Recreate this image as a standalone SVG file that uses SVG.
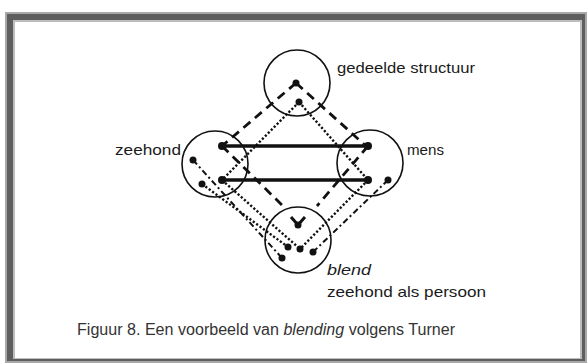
<svg xmlns="http://www.w3.org/2000/svg" width="587" height="363" viewBox="0 0 587 363">
<style>
.c{fill:none;stroke:#111;stroke-width:1.6}
.dot{fill:#111}
.solid{stroke:#111;stroke-width:3.6;fill:none}
.dash{stroke:#111;stroke-width:2.8;stroke-dasharray:9 6;fill:none}
.dotted{stroke:#111;stroke-width:2.4;stroke-dasharray:2.2 2;fill:none}
.dashdot{stroke:#111;stroke-width:2;stroke-dasharray:6 3 2 3;fill:none}
.t{font-family:"Liberation Sans",Arial,sans-serif;font-size:15px;fill:#1a1a1a}
</style>
<rect x="5" y="12" width="582" height="351" fill="#a8a8a8"/>
<rect x="7" y="14" width="578" height="347" fill="#5e5e5e"/>
<rect x="13" y="20" width="569" height="339" fill="#bdbdbd"/>
<rect x="15" y="22" width="565" height="336" fill="#ffffff"/>
<g id="connectors">
<line class="solid" x1="222" y1="146" x2="368" y2="146"/>
<line class="solid" x1="222" y1="180" x2="368" y2="180"/>
<line class="dash" x1="296" y1="83" x2="222" y2="146"/>
<line class="dash" x1="296" y1="83" x2="366" y2="146"/>
<line class="dash" x1="222" y1="146" x2="283" y2="206"/>
<line class="dash" x1="368" y1="146" x2="317" y2="206"/>
<line class="dotted" x1="299" y1="102" x2="222" y2="180"/>
<line class="dotted" x1="299" y1="102" x2="368" y2="180"/>
<line class="dotted" x1="222" y1="180" x2="300" y2="249"/>
<line class="dotted" x1="368" y1="180" x2="300" y2="249"/>
<line class="dotted" x1="202" y1="184" x2="288" y2="247"/>
<line class="dashdot" x1="193" y1="160" x2="282" y2="258"/>
<line class="dashdot" x1="388" y1="180" x2="313" y2="252"/>
<path d="M291,217 L298,225 L305,217" fill="none" stroke="#111" stroke-width="3"/>
</g>
<g id="gedeelde">
<circle class="c" cx="297" cy="83" r="33"/>
<circle class="dot" cx="296" cy="83" r="3.5"/>
<circle class="dot" cx="299" cy="102" r="3.5"/>
<text class="t" x="337" y="73" textLength="138" lengthAdjust="spacingAndGlyphs">gedeelde structuur</text>
</g>
<g id="zeehond">
<circle class="c" cx="215" cy="164" r="33"/>
<circle class="dot" cx="222" cy="146" r="4"/>
<circle class="dot" cx="222" cy="180" r="4"/>
<circle class="dot" cx="193" cy="160" r="3.5"/>
<circle class="dot" cx="202" cy="184" r="3.5"/>
<text class="t" x="115" y="155" textLength="66" lengthAdjust="spacingAndGlyphs">zeehond</text>
</g>
<g id="mens">
<circle class="c" cx="370" cy="163" r="33"/>
<circle class="dot" cx="368" cy="146" r="4"/>
<circle class="dot" cx="368" cy="180" r="4"/>
<circle class="dot" cx="388" cy="180" r="3.5"/>
<text class="t" x="407" y="155" textLength="37" lengthAdjust="spacingAndGlyphs">mens</text>
</g>
<g id="blend">
<circle class="c" cx="298" cy="240" r="33"/>
<circle class="dot" cx="298" cy="225" r="3.5"/>
<circle class="dot" cx="288" cy="247" r="3.5"/>
<circle class="dot" cx="300" cy="249" r="3.5"/>
<circle class="dot" cx="282" cy="258" r="3.5"/>
<circle class="dot" cx="313" cy="252" r="3.5"/>
<text class="t" x="327" y="275" font-style="italic" textLength="44" lengthAdjust="spacingAndGlyphs">blend</text>
<text class="t" x="327" y="297" textLength="159" lengthAdjust="spacingAndGlyphs">zeehond als persoon</text>
</g>
<text class="t" x="77" y="335" style="font-size:16px;fill:#333" textLength="378" lengthAdjust="spacingAndGlyphs">Figuur 8. Een voorbeeld van <tspan font-style="italic">blending</tspan> volgens Turner</text>
</svg>
